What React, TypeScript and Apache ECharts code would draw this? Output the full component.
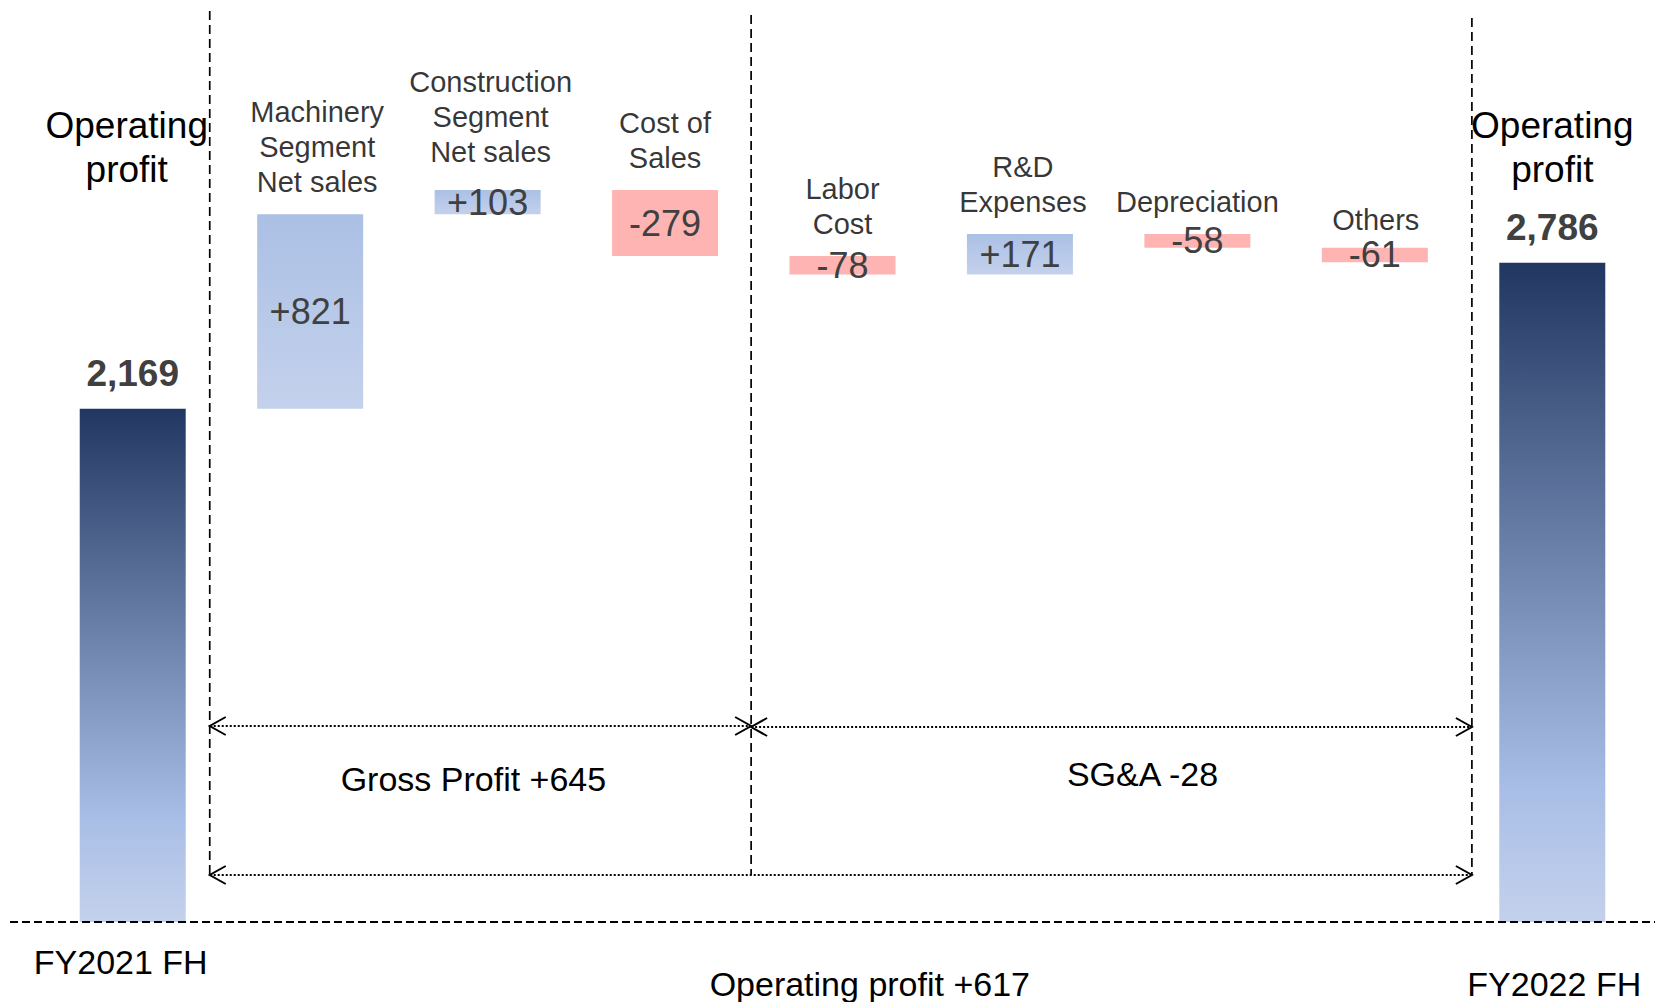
import React, { useEffect, useRef } from 'react';
import * as echarts from 'echarts';

const categories = [
  'FY2021 FH',
  'Machinery Segment Net sales',
  'Construction Segment Net sales',
  'Cost of Sales',
  'Labor Cost',
  'R&D Expenses',
  'Depreciation',
  'Others',
  'FY2022 FH',
];
const categoryLabels = [
  'Operating\nprofit',
  'Machinery\nSegment\nNet sales',
  'Construction\nSegment\nNet sales',
  'Cost of\nSales',
  'Labor\nCost',
  'R&D\nExpenses',
  'Depreciation',
  'Others',
  'Operating\nprofit',
];
const kinds = ['total', 'delta', 'delta', 'delta', 'delta', 'delta', 'delta', 'delta', 'total'];
const values = [2169, 821, 103, -279, -78, 171, -58, -61, 2786];
const sectionLabels = ['Gross Profit +645', 'SG&A -28', 'Operating profit +617'];

const FONT = '"Liberation Sans", Arial, Helvetica, sans-serif';

// layout-only nudges for the category name labels (pixels)
const nameNudge: Record<number, [number, number]> = { 1: [7, 0], 2: [3, -6], 5: [3, 0], 7: [1, 4] };

export default function App() {
  const ref = useRef<HTMLDivElement>(null);

  useEffect(() => {
    if (!ref.current) return;
    const chart = echarts.init(ref.current, undefined, { renderer: 'svg' });

    let cum = 0;
    const base: number[] = [];
    const bar: number[] = [];
    const tops: (number | null)[] = [];
    values.forEach((v, i) => {
      if (kinds[i] === 'total') {
        base.push(0);
        bar.push(v);
        tops.push(null);
        cum = v;
      } else {
        const next = cum + v;
        base.push(Math.min(cum, next));
        bar.push(Math.abs(v));
        tops.push(Math.max(cum, next));
        cum = next;
      }
    });

    const totalGrad = new echarts.graphic.LinearGradient(0, 0, 0, 1, [
      { offset: 0, color: '#213761' },
      { offset: 0.8, color: '#A9BEE6' },
      { offset: 1, color: '#C4D1EC' },
    ]);
    const posGrad = new echarts.graphic.LinearGradient(0, 0, 0, 1, [
      { offset: 0, color: '#ABC0E5' },
      { offset: 1, color: '#C4D1EC' },
    ]);
    const negColor = '#FFB4B4';

    const barData = bar.map((v, i) => {
      const isTotal = kinds[i] === 'total';
      const raw = values[i];
      return {
        value: v,
        itemStyle: { color: isTotal ? totalGrad : raw >= 0 ? posGrad : negColor },
        label: isTotal
          ? {
              show: true,
              position: 'top',
              distance: 17,
              fontSize: 37,
              fontWeight: 'bold',
              color: '#404040',
              fontFamily: FONT,
              formatter: () => raw.toLocaleString('en-US'),
            }
          : {
              show: true,
              position: 'inside',
              fontSize: 36,
              color: '#404040',
              fontFamily: FONT,
              formatter: () => (raw > 0 ? '+' : '') + raw,
            },
      };
    });

    const nameData = tops
      .map((t, i) =>
        t == null
          ? null
          : {
              value: [i, t],
              name: categoryLabels[i],
              label: nameNudge[i] ? { offset: nameNudge[i] } : undefined,
            }
      )
      .filter((d) => d != null);

    chart.setOption({
      animation: false,
      grid: { left: 44, right: 14, top: 212, bottom: 80 },
      xAxis: [
        {
          type: 'category',
          data: categories,
          axisLine: { show: false },
          axisTick: { show: false },
          axisLabel: { show: false },
          splitLine: { show: false },
        },
        {
          type: 'category',
          position: 'top',
          data: categories,
          axisLine: { show: false },
          axisTick: { show: false },
          splitLine: { show: false },
          axisLabel: {
            interval: 0,
            margin: 21,
            fontSize: 37,
            lineHeight: 44,
            color: '#000',
            fontFamily: FONT,
            formatter: (_v: string, i: number) =>
              kinds[i] === 'total'
                ? i === 0
                  ? '{l|' + categoryLabels[i].replace('\n', '}\n{l|') + '}'
                  : categoryLabels[i]
                : '',
            rich: {
              l: { fontSize: 37, lineHeight: 44, color: '#000', fontFamily: FONT, padding: [0, 12, 0, 0] },
            },
          },
        },
      ],
      yAxis: { type: 'value', min: 0, max: 3000, show: false, splitLine: { show: false } },
      series: [
        {
          type: 'bar',
          stack: 'w',
          barWidth: 106,
          silent: true,
          clip: false,
          itemStyle: { color: 'transparent' },
          data: base,
        },
        {
          type: 'bar',
          stack: 'w',
          barWidth: 106,
          clip: false,
          data: barData,
        },
        {
          type: 'scatter',
          symbolSize: 1,
          silent: true,
          clip: false,
          itemStyle: { color: 'transparent' },
          label: {
            show: true,
            position: 'top',
            distance: 14,
            fontSize: 29,
            lineHeight: 35,
            color: '#000',
            fontFamily: FONT,
            align: 'center',
            formatter: (p: any) => p.name,
          },
          data: nameData,
        },
      ],
    });

    const cx = (i: number) => chart.convertToPixel({ xAxisIndex: 0 }, i) as number;
    const by = chart.convertToPixel({ yAxisIndex: 0 }, 0) as number;
    const step = cx(1) - cx(0);
    const xL = cx(0) + step * 0.434;
    const xM = cx(3) + step * 0.485;
    const xR = cx(7) + step * 0.547;
    const yUp = by - 196;
    const yLow = by - 47;

    const dotted = { stroke: '#000', lineWidth: 2, lineDash: [2, 2] };
    const vDash = { stroke: '#000', lineWidth: 1.7, lineDash: [9, 5] };
    const headStyle = { stroke: '#000', lineWidth: 2, fill: null };
    const leftHead = (x: number, y: number) => ({
      type: 'polyline',
      z: 100,
      shape: { points: [[x + 16, y - 9], [x, y], [x + 16, y + 9]] },
      style: headStyle,
    });
    const rightHead = (x: number, y: number) => ({
      type: 'polyline',
      z: 100,
      shape: { points: [[x - 16, y - 9], [x, y], [x - 16, y + 9]] },
      style: headStyle,
    });
    const txt = (text: string, x: number, y: number) => ({
      type: 'text',
      z: 100,
      x,
      y,
      style: {
        text,
        fontSize: 34,
        fontFamily: FONT,
        fill: '#000',
        align: 'center',
        verticalAlign: 'middle',
      },
    });

    chart.setOption({
      graphic: [
        {
          type: 'line',
          z: 100,
          shape: { x1: 10, y1: by, x2: 1655, y2: by },
          style: { stroke: '#000', lineWidth: 2, lineDash: [8, 4] },
        },
        { type: 'line', z: 100, shape: { x1: xL, y1: 11, x2: xL, y2: yLow }, style: vDash },
        { type: 'line', z: 100, shape: { x1: xM, y1: 15, x2: xM, y2: yLow }, style: vDash },
        { type: 'line', z: 100, shape: { x1: xR, y1: 18, x2: xR, y2: yLow }, style: vDash },
        { type: 'line', z: 100, shape: { x1: xL, y1: yUp, x2: xM, y2: yUp }, style: dotted },
        { type: 'line', z: 100, shape: { x1: xM, y1: yUp + 1, x2: xR, y2: yUp + 1 }, style: dotted },
        leftHead(xL, yUp),
        rightHead(xM, yUp),
        leftHead(xM, yUp + 1),
        rightHead(xR, yUp + 1),
        { type: 'line', z: 100, shape: { x1: xL, y1: yLow, x2: xR, y2: yLow }, style: dotted },
        leftHead(xL, yLow),
        rightHead(xR, yLow),
        txt(sectionLabels[0], (xL + xM) / 2 - 7, by - 143),
        txt(sectionLabels[1], (xM + xR) / 2 + 31, by - 148),
        txt(sectionLabels[2], (xL + xR) / 2 + 29, by + 62),
        txt(categories[0], cx(0) - 12, by + 40),
        txt(categories[8], cx(8) + 2, by + 62),
      ],
    });

    return () => chart.dispose();
  }, []);

  return (
    <div
      ref={ref}
      style={{ position: 'fixed', left: 0, top: 0, width: 1655, height: 1002, background: '#fff' }}
    />
  );
}
